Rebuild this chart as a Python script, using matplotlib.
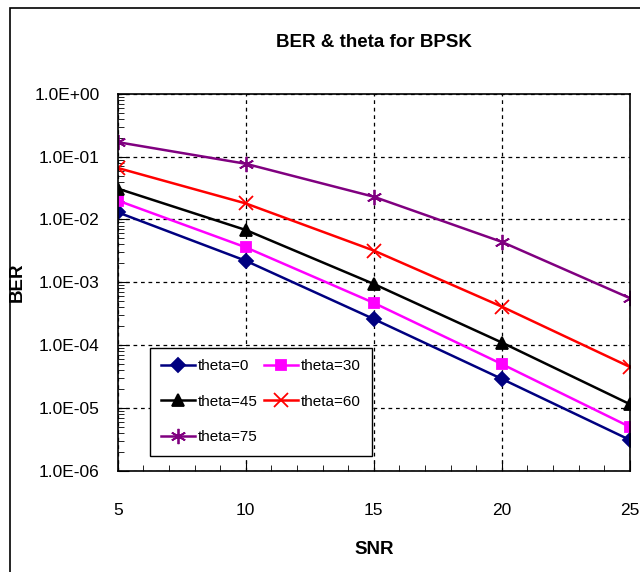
import matplotlib
matplotlib.use("Agg")
import matplotlib.pyplot as plt
from matplotlib.patches import Rectangle
from matplotlib.ticker import LogLocator, FixedLocator, NullFormatter

plt.rcParams['font.family'] = ['Liberation Sans', 'DejaVu Sans']

snr = [5, 10, 15, 20, 25]
ber_0 = [1.3e-2, 2.2e-3, 2.6e-4, 2.9e-5, 3.1e-6]
ber_30 = [2.0e-2, 3.6e-3, 4.7e-4, 5.0e-5, 5.0e-6]
ber_45 = [3.1e-2, 6.8e-3, 9.4e-4, 1.1e-4, 1.15e-5]
ber_60 = [6.6e-2, 1.8e-2, 3.2e-3, 4.1e-4, 4.5e-5]
ber_75 = [1.7e-1, 7.7e-2, 2.3e-2, 4.4e-3, 5.6e-4]
y_ticks = [1e0, 1e-1, 1e-2, 1e-3, 1e-4, 1e-5, 1e-6]

fig = plt.figure(figsize=(6.4, 5.72), dpi=100)
ax = fig.add_axes([0.184, 0.177, 0.80, 0.659])

# outer frame like the excel chart area
fig.patches.append(Rectangle((0.016, -0.01), 1.0, 0.996, transform=fig.transFigure,
                             fill=False, edgecolor='black', linewidth=1.2))

series = [
    (ber_0, 'theta=0', '#000080', 'D', 7),
    (ber_30, 'theta=30', '#FF00FF', 's', 7),
    (ber_45, 'theta=45', 'black', '^', 8),
    (ber_60, 'theta=60', '#FF0000', 'x', 10),
    (ber_75, 'theta=75', '#800080', (6, 2, 0), 11),
]
lines = []
for vals, lab, col, mk, ms in series:
    ln, = ax.plot(snr, vals, color=col, marker=mk, markersize=ms, linewidth=1.8,
                  markeredgewidth=1.3, label=lab)
    lines.append(ln)

ax.set_yscale('log')
ax.set_ylim(1e-6, 1e0)
ax.set_xlim(5, 25)
ax.set_yticks(y_ticks)
ax.set_yticklabels(['%.1E' % v for v in y_ticks])
ax.yaxis.set_minor_locator(LogLocator(base=10, subs=range(2, 10), numticks=20))
ax.yaxis.set_minor_formatter(NullFormatter())
ax.set_xticks(snr)
ax.xaxis.set_minor_locator(FixedLocator(range(5, 26)))

ax.tick_params(axis='both', which='major', direction='in', length=8, labelsize=12.5, pad=13)
ax.tick_params(axis='both', which='minor', direction='in', length=4)
ax.tick_params(axis='x', which='major', pad=23)
ax.grid(True, which='major', color='black', linestyle=(0, (3, 3)), linewidth=0.9)
for s in ax.spines.values():
    s.set_linewidth(1.2)

ax.set_title('BER & theta for BPSK', fontsize=13.5, fontweight='bold', pad=34)
ax.set_xlabel('SNR', fontsize=13.5, fontweight='bold', labelpad=17)
ax.set_ylabel('BER', fontsize=13.5, fontweight='bold', labelpad=6)

# excel fills legend row by row
order = [0, 2, 4, 1, 3]
leg = ax.legend([lines[i] for i in order], [series[i][1] for i in order],
                loc='lower left', bbox_to_anchor=(0.048, 0.02), ncol=2, fontsize=11,
                frameon=True, fancybox=False, edgecolor='black', framealpha=1,
                handlelength=2.2, columnspacing=0.4, labelspacing=1.4, borderpad=0.75,
                handletextpad=0.2)
leg.get_frame().set_linewidth(1.0)

fig.savefig('out.png', dpi=100)
